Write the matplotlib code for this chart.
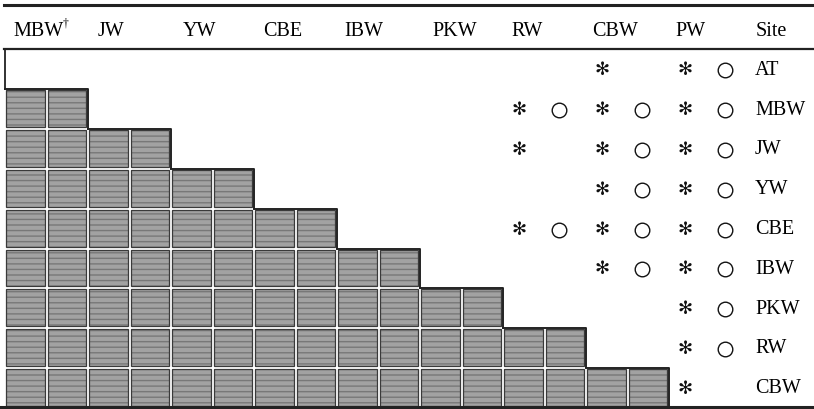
import matplotlib.pyplot as plt
from matplotlib.patches import Rectangle

# column sites (header) and row sites
col_sites = ["MBW", "JW", "YW", "CBE", "IBW", "PKW", "RW", "CBW", "PW"]
row_sites = ["AT", "MBW", "JW", "YW", "CBE", "IBW", "PKW", "RW", "CBW"]

# significance marks per row: (column site, asterisk, circle)
marks = {
    "AT":  [("CBW", 1, 0), ("PW", 1, 1)],
    "MBW": [("RW", 1, 1), ("CBW", 1, 1), ("PW", 1, 1)],
    "JW":  [("RW", 1, 0), ("CBW", 1, 1), ("PW", 1, 1)],
    "YW":  [("CBW", 1, 1), ("PW", 1, 1)],
    "CBE": [("RW", 1, 1), ("CBW", 1, 1), ("PW", 1, 1)],
    "IBW": [("CBW", 1, 1), ("PW", 1, 1)],
    "PKW": [("PW", 1, 1)],
    "RW":  [("PW", 1, 1)],
    "CBW": [("PW", 1, 0)],
}

# layout (pixels)
x0 = 4.5
cw = 83.0
y_top = 49.0
rh = 39.8
head_x = [39, 111, 199, 283, 364, 455, 527, 615, 690]

serif = "Liberation Serif"
fs = 14.5

fig = plt.figure(figsize=(8.14, 4.09), dpi=100)
ax = fig.add_axes([0, 0, 1, 1])
ax.set_xlim(0, 814)
ax.set_ylim(409, 0)
ax.axis("off")

# rules
ax.plot([4, 814], [5, 5], color="#222222", lw=2.2)
ax.plot([4, 814], [48.5, 48.5], color="#222222", lw=1.6)
ax.plot([0, 814], [407, 407], color="#222222", lw=2.2)
ax.plot([x0, x0], [48.5, y_top + rh], color="#222222", lw=1.3)

# header
for name, hx in zip(col_sites, head_x):
    ax.text(hx, 31, name, ha="center", va="center", fontsize=fs, family=serif)
ax.text(63, 24, "\u2020", ha="left", va="center", fontsize=8.5, family=serif)
ax.text(771, 31, "Site", ha="center", va="center", fontsize=fs, family=serif)

# staircase of shaded cells
gap = 3.0
for r in range(1, len(row_sites)):
    yb = y_top + r * rh
    for c in range(r):
        for h in range(2):
            xl = x0 + c * cw + h * cw / 2 + (gap / 2 if (c or h) else 1.5)
            ax.add_patch(Rectangle((xl, yb + gap / 2), cw / 2 - gap, rh - gap,
                                   facecolor="#a2a2a2", edgecolor="#787878",
                                   hatch="---", lw=0))
            ax.add_patch(Rectangle((xl, yb + gap / 2), cw / 2 - gap, rh - gap,
                                   facecolor="none", edgecolor="#3a3a3a", lw=0.9))
    # step outline: top of the new cell and right edge of the row block
    xl = x0 if r == 1 else x0 + (r - 1) * cw
    xr = x0 + r * cw
    ax.plot([xl, xr, xr], [yb + 0.5, yb + 0.5, yb + rh], color="#222222", lw=1.4)

# marks and row labels
for r, site in enumerate(row_sites):
    yc = y_top + r * rh + rh / 2 + 1.5
    for col, star, circ in marks[site]:
        c = col_sites.index(col)
        xs = x0 + c * cw + cw / 4 - 4
        if star:
            ax.text(xs, yc, "\u273B", ha="center", va="center", fontsize=13,
                    fontweight="bold", family="DejaVu Sans", color="#111111")
        if circ:
            ax.plot(xs + cw / 2 - 2, yc, marker="o", ms=10.5, mfc="none",
                    mec="#111111", mew=1.0)
    ax.text(755, yc, site, ha="left", va="center", fontsize=fs, family=serif)

fig.savefig("out.png", dpi=100)
